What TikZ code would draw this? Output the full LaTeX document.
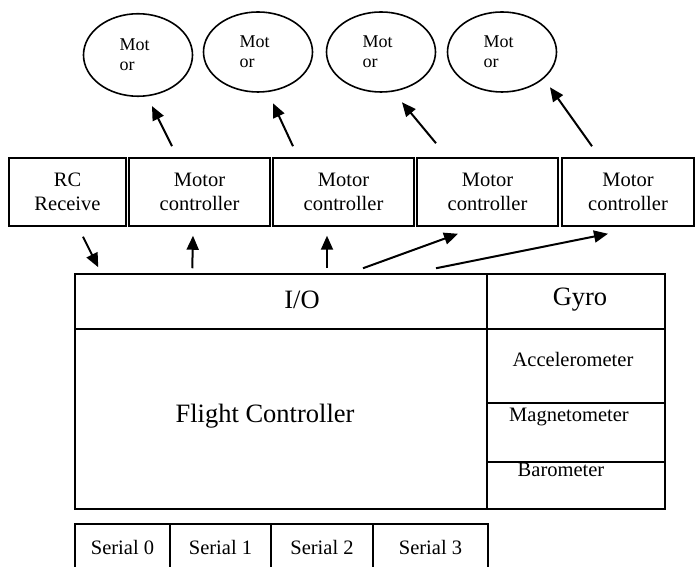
\documentclass[tikz,border=0pt]{standalone}
\usepackage{fontspec}
\setmainfont{Liberation Serif}
\usetikzlibrary{arrows.meta}
\usetikzlibrary{calc}
\usetikzlibrary{shapes.geometric}

\begin{document}
\begin{tikzpicture}[x=1pt, y=1pt,
    small/.style={font=\fontsize{20.5}{24}\selectfont},
    big/.style={font=\fontsize{26.5}{30}\selectfont},
    box/.style={draw, line width=1.5pt, inner sep=0pt, align=center, small},
    cell/.style={draw, line width=1.5pt, inner sep=0pt},
    motor/.style={draw, ellipse, line width=1.6pt, inner sep=0pt, minimum width=109,
        text width=37pt, align=left, font=\fontsize{18}{20}\selectfont},
    arr/.style={line width=2pt, -{Triangle[length=14pt,width=12pt]}}]
    % flight controller block diagram
    \useasboundingbox (0,0) rectangle (696,567);
    \clip (0,0) rectangle (696,567);

    % motors
    \foreach \i/\x/\y/\h in {1/138/512/82.5, 2/258/515/80, 3/381/515/80, 4/502/515/80}{
        \node[motor, minimum height=\h] (m\i) at (\x,\y) {Mot\\or};
    };

    % receiver and motor controllers
    \node[box, minimum width=117, minimum height=68] (rc) at (67.5,375) {RC\\Receive};
    \foreach \i/\x/\w in {1/199.5/141, 2/343.5/141, 3/487.5/141, 4/628/132}{
        \node[box, minimum width=\w, minimum height=68] (mc\i) at (\x,375) {Motor\\controller};
    };

    % flight controller board
    \node[cell, minimum width=412, minimum height=55,
        label={[big, xshift=21pt, yshift=1.5pt]center:I/O}] (io) at (281,265.5) {};
    \node[cell, minimum width=412, minimum height=180,
        label={[big, xshift=-16pt, yshift=3pt]center:Flight Controller}] (fc) at (281,148) {};
    \node[cell, minimum width=178, minimum height=55,
        label={[big, xshift=4pt, yshift=1.5pt]center:Gyro}] (gyro) at (576,265.5) {};
    \node[cell, minimum width=178, minimum height=74,
        label={[small, xshift=-3pt, yshift=7pt]center:Accelerometer}] (acc) at (576,201) {};
    \node[cell, minimum width=178, minimum height=59,
        label={[small, xshift=-7pt, yshift=15.5pt]center:Magnetometer}] (mag) at (576,134.5) {};
    \node[cell, minimum width=178, minimum height=47,
        label={[small, xshift=-15pt, yshift=15.5pt]center:Barometer}] (baro) at (576,81.5) {};

    % serial ports
    \foreach \i/\x/\w in {0/122.5/95, 1/220.5/101, 2/322/102, 3/430.5/115}{
        \node[box, minimum width=\w, minimum height=46] (s\i) at (\x,20) {Serial \i};
    };

    % arrows
    \draw[arr] ([shift={(15.5,-10)}]rc.south) -- ([shift={(24,6)}]io.north west);
    \draw[arr] ([shift={(118,5)}]io.north west) -- ([shift={(-6.5,-9)}]mc1.south);
    \draw[arr] ([shift={(46,5)}]io.north) -- ([shift={(-16.5,-9)}]mc2.south);
    \draw[arr] ([shift={(82,5)}]io.north) -- ([shift={(-29.5,-7)}]mc3.south);
    \draw[arr] ([shift={(155,5)}]io.north) -- ([shift={(-20,-7)}]mc4.south);

    \foreach \i/\a/\b/\c/\d in {1/-27.5/11/14/-9, 2/-50.5/11/15/-10.5, 3/-51.5/14/21/-9.5, 4/-36/11/48/5.5}{
        \draw[arr] ([shift={(\a,\b)}]mc\i.north) -- ([shift={(\c,\d)}]m\i.south);
    };
\end{tikzpicture}
\end{document}
